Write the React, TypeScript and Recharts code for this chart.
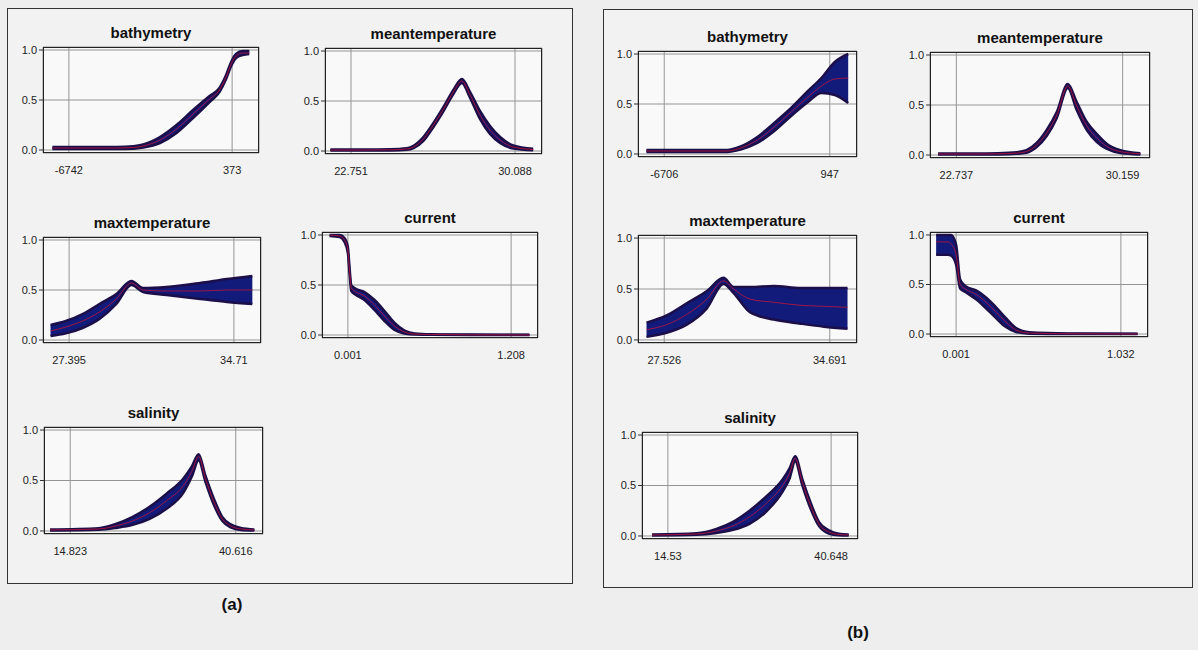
import React from "react";
import { ComposedChart, Area, Line, XAxis, YAxis, CartesianGrid } from "recharts";

// ---- panel (a) ----
const bathyATicks = [-6742, 373];
const bathyAX = [-7460, -6000, -4650, -3930, -3500, -2770, -2050, -1330, -610, -180, 110, 330, 545, 830, 1120];
const bathyAMean = [0.02, 0.02, 0.02, 0.025, 0.04, 0.1, 0.21, 0.36, 0.51, 0.6, 0.73, 0.86, 0.94, 0.97, 0.97];
const bathyALo = [0.01, 0.01, 0.01, 0.013, 0.025, 0.07, 0.17, 0.32, 0.48, 0.58, 0.71, 0.84, 0.92, 0.95, 0.96];
const bathyAHi = [0.03, 0.03, 0.03, 0.037, 0.055, 0.13, 0.25, 0.4, 0.54, 0.62, 0.75, 0.88, 0.96, 0.99, 0.99];

const meanTempATicks = [22.751, 30.088];
const meanTempAX = [21.83, 23.3, 24.5, 25.25, 25.55, 25.99, 26.44, 26.89, 27.33, 27.71, 28.08, 28.52, 28.97, 29.42, 30.01, 30.9];
const meanTempAMean = [0.01, 0.01, 0.012, 0.02, 0.04, 0.12, 0.26, 0.42, 0.59, 0.7, 0.56, 0.36, 0.21, 0.11, 0.04, 0.015];
const meanTempALo = [0.005, 0.005, 0.006, 0.012, 0.028, 0.1, 0.24, 0.4, 0.57, 0.68, 0.53, 0.32, 0.17, 0.08, 0.025, 0.008];
const meanTempAHi = [0.015, 0.015, 0.018, 0.028, 0.052, 0.14, 0.28, 0.44, 0.61, 0.72, 0.59, 0.4, 0.25, 0.14, 0.055, 0.022];

const maxTempATicks = [27.395, 34.71];
const maxTempAX = [26.57, 27.25, 27.99, 28.74, 29.49, 30.16, 30.68, 31.72, 33.22, 34.41, 35.53];
const maxTempAMean = [0.09, 0.13, 0.19, 0.28, 0.41, 0.57, 0.5, 0.49, 0.49, 0.5, 0.5];
const maxTempALo = [0.04, 0.066, 0.12, 0.21, 0.36, 0.55, 0.48, 0.45, 0.41, 0.38, 0.36];
const maxTempAHi = [0.15, 0.19, 0.26, 0.36, 0.46, 0.59, 0.52, 0.53, 0.57, 0.61, 0.64];

const currentATicks = [0.001, 1.208];
const currentAX = [-0.134, -0.06, -0.024, 0.001, 0.013, 0.026, 0.05, 0.124, 0.198, 0.272, 0.346, 0.42, 0.494, 0.617, 0.9, 1.343];
const currentAMean = [1.0, 0.99, 0.95, 0.85, 0.65, 0.47, 0.44, 0.39, 0.3, 0.19, 0.09, 0.03, 0.01, 0.005, 0.002, 0.0];
const currentALo = [0.99, 0.98, 0.93, 0.82, 0.62, 0.44, 0.41, 0.35, 0.25, 0.14, 0.05, 0.015, 0.004, 0.002, 0.0, 0.0];
const currentAHi = [1.0, 1.0, 0.97, 0.88, 0.68, 0.5, 0.47, 0.43, 0.35, 0.24, 0.12, 0.045, 0.016, 0.008, 0.004, 0.003];

const salinityATicks = [14.823, 40.616];
const salinityAX = [11.67, 19.3, 21.93, 24.56, 27.19, 29.83, 32.46, 33.77, 34.83, 35.88, 37.2, 38.51, 39.83, 41.41, 43.51];
const salinityAMean = [0.01, 0.02, 0.05, 0.1, 0.18, 0.3, 0.45, 0.59, 0.74, 0.52, 0.29, 0.12, 0.05, 0.02, 0.01];
const salinityALo = [0.005, 0.012, 0.03, 0.06, 0.12, 0.22, 0.38, 0.54, 0.7, 0.49, 0.26, 0.1, 0.035, 0.01, 0.005];
const salinityAHi = [0.015, 0.028, 0.07, 0.14, 0.24, 0.37, 0.52, 0.64, 0.76, 0.55, 0.32, 0.14, 0.065, 0.03, 0.015];

// ---- panel (b) ----
const bathyBTicks = [-6706, 947];
const bathyBX = [-7530, -5820, -3800, -3175, -2400, -1620, -840, -60, 560, 1180, 1800];
const bathyBMean = [0.03, 0.03, 0.03, 0.06, 0.14, 0.27, 0.42, 0.57, 0.68, 0.75, 0.76];
const bathyBLo = [0.02, 0.02, 0.02, 0.045, 0.11, 0.23, 0.38, 0.52, 0.61, 0.59, 0.51];
const bathyBHi = [0.04, 0.04, 0.04, 0.075, 0.17, 0.31, 0.46, 0.63, 0.76, 0.92, 1.0];

const meanTempBTicks = [22.737, 30.159];
const meanTempBX = [21.92, 23.5, 24.6, 25.43, 25.87, 26.32, 26.77, 27.22, 27.71, 28.11, 28.56, 29.01, 29.46, 30.06, 30.95];
const meanTempBMean = [0.01, 0.01, 0.012, 0.02, 0.035, 0.1, 0.22, 0.4, 0.69, 0.49, 0.29, 0.17, 0.085, 0.034, 0.012];
const meanTempBLo = [0.005, 0.005, 0.006, 0.012, 0.022, 0.08, 0.19, 0.37, 0.67, 0.45, 0.25, 0.13, 0.06, 0.02, 0.006];
const meanTempBHi = [0.015, 0.015, 0.018, 0.028, 0.048, 0.12, 0.25, 0.43, 0.71, 0.53, 0.33, 0.21, 0.11, 0.048, 0.018];

const maxTempBTicks = [27.526, 34.691];
const maxTempBX = [26.76, 27.63, 28.5, 29.37, 30.09, 30.53, 31.25, 32.27, 33.43, 34.44, 35.46];
const maxTempBMean = [0.1, 0.15, 0.25, 0.4, 0.58, 0.5, 0.4, 0.37, 0.34, 0.33, 0.32];
const maxTempBLo = [0.03, 0.07, 0.15, 0.31, 0.55, 0.46, 0.27, 0.2, 0.16, 0.13, 0.11];
const maxTempBHi = [0.17, 0.24, 0.36, 0.48, 0.61, 0.52, 0.52, 0.53, 0.51, 0.51, 0.51];

const currentBTicks = [0.001, 1.032];
const currentBX = [-0.124, -0.05, -0.03, 0.001, 0.026, 0.063, 0.126, 0.188, 0.251, 0.313, 0.376, 0.459, 0.7, 1.136];
const currentBMean = [0.93, 0.93, 0.91, 0.8, 0.5, 0.45, 0.4, 0.32, 0.22, 0.12, 0.04, 0.01, 0.003, 0.0];
const currentBLo = [0.8, 0.8, 0.79, 0.7, 0.46, 0.42, 0.35, 0.26, 0.16, 0.07, 0.02, 0.004, 0.0, 0.0];
const currentBHi = [1.0, 1.0, 1.0, 0.9, 0.55, 0.48, 0.44, 0.37, 0.27, 0.16, 0.06, 0.018, 0.006, 0.003];

const salinityBTicks = [14.53, 40.648];
const salinityBX = [11.99, 19.13, 22.3, 24.95, 27.59, 30.23, 32.88, 34.0, 34.89, 36.05, 37.37, 38.69, 40.28, 41.86, 43.45];
const salinityBMean = [0.01, 0.02, 0.05, 0.1, 0.19, 0.32, 0.5, 0.62, 0.77, 0.53, 0.3, 0.12, 0.04, 0.015, 0.01];
const salinityBLo = [0.005, 0.012, 0.03, 0.06, 0.12, 0.24, 0.44, 0.57, 0.74, 0.5, 0.27, 0.1, 0.025, 0.008, 0.005];
const salinityBHi = [0.015, 0.028, 0.07, 0.14, 0.25, 0.39, 0.56, 0.67, 0.79, 0.56, 0.33, 0.14, 0.055, 0.022, 0.015];

const yTicks = [0, 0.5, 1];

const FONT = '"Liberation Sans", Arial, sans-serif';
const BAND_FILL = "#121a7a";
const BAND_EDGE = "#1c0e48";
const MEAN_COLOR = "#b5163e";

type Series = { x: number[]; mean: number[]; lo: number[]; hi: number[] };

function buildRows(s: Series) {
  return s.x.map((x, i) => ({ x, mean: s.mean[i], band: [s.lo[i], s.hi[i]] }));
}

// plot rectangle: left, top, width, height (page pixels)
const panels = [
  { title: "bathymetry", ticks: bathyATicks, s: { x: bathyAX, mean: bathyAMean, lo: bathyALo, hi: bathyAHi }, rect: [43, 47, 216, 106] },
  { title: "meantemperature", ticks: meanTempATicks, s: { x: meanTempAX, mean: meanTempAMean, lo: meanTempALo, hi: meanTempAHi }, rect: [325, 48, 217, 106] },
  { title: "maxtemperature", ticks: maxTempATicks, s: { x: maxTempAX, mean: maxTempAMean, lo: maxTempALo, hi: maxTempAHi }, rect: [43, 237, 218, 106] },
  { title: "current", ticks: currentATicks, s: { x: currentAX, mean: currentAMean, lo: currentALo, hi: currentAHi }, rect: [322, 232, 216, 106] },
  { title: "salinity", ticks: salinityATicks, s: { x: salinityAX, mean: salinityAMean, lo: salinityALo, hi: salinityAHi }, rect: [44, 427, 219, 107] },
  { title: "bathymetry", ticks: bathyBTicks, s: { x: bathyBX, mean: bathyBMean, lo: bathyBLo, hi: bathyBHi }, rect: [638, 51, 219, 106] },
  { title: "meantemperature", ticks: meanTempBTicks, s: { x: meanTempBX, mean: meanTempBMean, lo: meanTempBLo, hi: meanTempBHi }, rect: [930, 52, 220, 106] },
  { title: "maxtemperature", ticks: maxTempBTicks, s: { x: maxTempBX, mean: maxTempBMean, lo: maxTempBLo, hi: maxTempBHi }, rect: [638, 235, 219, 108] },
  { title: "current", ticks: currentBTicks, s: { x: currentBX, mean: currentBMean, lo: currentBLo, hi: currentBHi }, rect: [930, 232, 218, 105] },
  { title: "salinity", ticks: salinityBTicks, s: { x: salinityBX, mean: salinityBMean, lo: salinityBLo, hi: salinityBHi }, rect: [642, 432, 216, 107] },
];

const Y_AXIS_W = 36;
const TOP_PAD = 4;

function ResponsePlot({ title, ticks, s, rect }: (typeof panels)[number]) {
  const [left, top, w, h] = rect;
  const span = ticks[1] - ticks[0];
  // tick marks sit ~26px in from each side of the plot box
  const domain = [ticks[0] - 0.1585 * span, ticks[1] + 0.1646 * span];
  const rows = buildRows(s);
  return (
    <>
      <div
        style={{
          position: "absolute",
          left,
          width: w,
          top: top - 22,
          textAlign: "center",
          fontFamily: FONT,
          fontWeight: "bold",
          fontSize: 15,
          lineHeight: "15px",
          color: "#111",
        }}
      >
        {title}
      </div>
      <div style={{ position: "absolute", left, top, width: w, height: h, background: "#f9f9f9" }} />
      <div style={{ position: "absolute", left: left - Y_AXIS_W, top: top - TOP_PAD }}>
        <ComposedChart
          width={w + Y_AXIS_W + 4}
          height={h + TOP_PAD + 30}
          data={rows}
          margin={{ top: TOP_PAD, right: 4, bottom: 0, left: 0 }}
        >
          <CartesianGrid stroke="#959595" strokeWidth={1} />
          <XAxis
            type="number"
            dataKey="x"
            domain={domain}
            ticks={ticks}
            interval={0}
            axisLine={false}
            tickLine={false}
            tickSize={0}
            tickMargin={13}
            height={30}
            tick={{ fontSize: 11, fill: "#222", fontFamily: FONT }}
          />
          <YAxis
            type="number"
            domain={[-0.03, 1.03]}
            ticks={yTicks}
            interval={0}
            width={Y_AXIS_W}
            axisLine={false}
            tickSize={4}
            tickMargin={2}
            tickLine={{ stroke: "#333" }}
            tickFormatter={(v: number) => v.toFixed(1)}
            tick={{ fontSize: 11, fill: "#222", fontFamily: FONT }}
          />
          <Area
            type="monotone"
            dataKey="band"
            fill={BAND_FILL}
            fillOpacity={1}
            stroke={BAND_EDGE}
            strokeWidth={2.5}
            dot={false}
            activeDot={false}
            isAnimationActive={false}
          />
          <Line
            type="monotone"
            dataKey="mean"
            stroke={MEAN_COLOR}
            strokeWidth={1}
            strokeOpacity={0.85}
            dot={false}
            activeDot={false}
            isAnimationActive={false}
          />
        </ComposedChart>
      </div>
      <div
        style={{
          position: "absolute",
          left,
          top,
          width: w,
          height: h,
          border: "1.5px solid #222",
          boxSizing: "border-box",
          pointerEvents: "none",
        }}
      />
    </>
  );
}

export default function App() {
  return (
    <div
      style={{
        position: "absolute",
        left: 0,
        top: 0,
        width: 1198,
        height: 650,
        background: "#eeeeee",
        overflow: "hidden",
        fontFamily: FONT,
      }}
    >
      <div style={{ position: "absolute", left: 7, top: 8, width: 566, height: 576, border: "1.5px solid #333", boxSizing: "border-box", background: "#f2f2f2" }} />
      <div style={{ position: "absolute", left: 603, top: 9, width: 590, height: 579, border: "1.5px solid #333", boxSizing: "border-box", background: "#f2f2f2" }} />
      {panels.map((p, i) => (
        <ResponsePlot key={i} {...p} />
      ))}
      <div style={{ position: "absolute", left: 212, top: 595, width: 40, textAlign: "center", fontWeight: "bold", fontSize: 17, lineHeight: "20px", color: "#111" }}>
        (a)
      </div>
      <div style={{ position: "absolute", left: 838, top: 623, width: 40, textAlign: "center", fontWeight: "bold", fontSize: 17, lineHeight: "20px", color: "#111" }}>
        (b)
      </div>
    </div>
  );
}
